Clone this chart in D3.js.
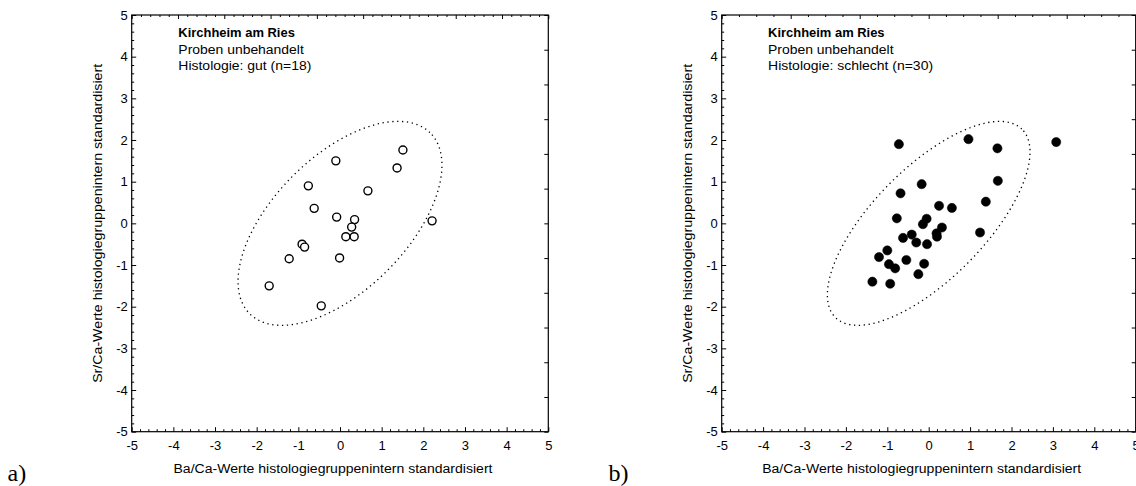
<!DOCTYPE html>
<html><head><meta charset="utf-8">
<script src="https://cdn.jsdelivr.net/npm/d3@7"></script>
<style>
body{margin:0;background:#fff;}
svg{display:block;}
text{fill:#000;}
</style></head>
<body>
<svg id="chart" width="1136" height="486"></svg>
<script>
// ---- data ----
const ticksMajor = [-5,-4,-3,-2,-1,0,1,2,3,4,5];
const tickLabels = ["-5","-4","-3","-2","-1","0","1","2","3","4","5"];
const panelLetters = ["a)","b)"];
const titleLines = ["Kirchheim am Ries","Proben unbehandelt"];
const histologyA = "Histologie: gut (n=18)";
const histologyB = "Histologie: schlecht (n=30)";
const xAxisTitle = "Ba/Ca-Werte histologiegruppenintern standardisiert";
const yAxisTitle = "Sr/Ca-Werte histologiegruppenintern standardisiert";

// panel a: histology good (open circles)
const aBa = [1.51,1.37,-0.10,-0.76,0.67,-0.62,-0.08,0.35,0.28,0.14,0.34,-0.91,-0.85,2.21,-1.22,-0.01,-1.70,-0.45];
const aSr = [1.76,1.33,1.50,0.90,0.78,0.36,0.15,0.09,-0.09,-0.32,-0.32,-0.50,-0.57,0.06,-0.85,-0.83,-1.50,-1.98];
// panel b: histology poor (filled circles)
const bBa = [-0.72,0.96,1.66,3.08,-0.17,-0.68,1.67,1.38,0.25,0.56,-0.77,-0.05,-0.14,0.32,0.19,0.20,1.24,-0.41,-0.62,-0.30,-0.04,-1.00,-1.20,-0.54,-0.11,-0.96,-0.81,-0.25,-1.36,-0.93];
const bSr = [1.90,2.02,1.80,1.95,0.94,0.72,1.02,0.52,0.42,0.37,0.12,0.11,-0.02,-0.10,-0.24,-0.32,-0.22,-0.27,-0.35,-0.46,-0.50,-0.65,-0.81,-0.88,-0.97,-0.98,-1.08,-1.22,-1.40,-1.45];

// 95% confidence ellipses (standardized data): correlation per panel, chi-square(2 df)
const ellipseR = [0.57, 0.70];
const ellipseChi2 = [5.99, 5.99];

// ---- drawing ----
const SANS = '"Liberation Sans", Arial, sans-serif';
const SERIF = '"Liberation Serif", "Times New Roman", serif';
const svg = d3.select("#chart");
const panels = [
  {x0:131.7, x1:548.3, ba:aBa, sr:aSr, fill:"#fff", hist:histologyA, histW:133, letterX:7.5, ylabX:97, topN:9, topSub:5},
  {x0:721.7, x1:1135.7, ba:bBa, sr:bSr, fill:"#000", hist:histologyB, histW:165, letterX:608.5, ylabX:687, topN:6, topSub:4}
];
const yTop = 15, yBot = 431.7;

function label(sel, txt, size, width, weight) {
  const t = sel.append("text").style("font-family",SANS).style("font-size",size+"px").text(txt);
  if (weight) t.style("font-weight",weight);
  if (width) t.attr("textLength",width).attr("lengthAdjust","spacingAndGlyphs");
  return t;
}

panels.forEach((p, i) => {
  const x = d3.scaleLinear().domain([-5,5]).range([p.x0, p.x1]);
  const y = d3.scaleLinear().domain([-5,5]).range([yBot, yTop]);
  const g = svg.append("g");

  // frame
  g.append("rect").attr("x", p.x0).attr("y", yTop).attr("width", p.x1-p.x0).attr("height", yBot-yTop)
    .attr("fill","none").attr("stroke","#000").attr("stroke-width",1.2);

  const minors = d3.range(-50,51,2).map(v => v/10).filter(v => Math.abs(v - Math.round(v)) > 1e-9);

  // bottom axis
  g.append("g").attr("transform",`translate(0,${yBot})`)
    .call(d3.axisBottom(x).tickValues(ticksMajor).tickFormat((d,k)=>tickLabels[k]).tickSize(-4.5).tickPadding(9));
  g.append("g").attr("transform",`translate(0,${yBot})`)
    .call(d3.axisBottom(x).tickValues(minors).tickFormat("").tickSize(-2.5));
  // left axis
  g.append("g").attr("transform",`translate(${p.x0},0)`)
    .call(d3.axisLeft(y).tickValues(ticksMajor).tickFormat((d,k)=>tickLabels[k]).tickSize(-4.5).tickPadding(4));
  g.append("g").attr("transform",`translate(${p.x0},0)`)
    .call(d3.axisLeft(y).tickValues(minors).tickFormat("").tickSize(-2.5));
  // top axis (own scale, as in the original)
  const xt = d3.scaleLinear().domain([0,p.topN]).range([p.x0,p.x1]);
  g.append("g").attr("transform",`translate(0,${yTop})`)
    .call(d3.axisTop(xt).tickValues(d3.range(0,p.topN+1)).tickFormat("").tickSize(-4));
  g.append("g").attr("transform",`translate(0,${yTop})`)
    .call(d3.axisTop(xt).tickValues(d3.range(0,p.topN*p.topSub+1).map(v=>v/p.topSub).filter(v=>v%1!==0)).tickFormat("").tickSize(-2));
  // right axis
  const yr = d3.scaleLinear().domain([0,12]).range([yBot,yTop]);
  g.append("g").attr("transform",`translate(${p.x1},0)`)
    .call(d3.axisRight(yr).tickValues(d3.range(0,13)).tickFormat("").tickSize(-4));

  g.selectAll(".domain").remove();
  g.selectAll(".tick line").attr("stroke","#000").attr("stroke-width",1);
  g.selectAll(".tick text").style("font-size","13px").style("font-family",SANS).attr("fill","#000");

  // axis titles
  label(g, xAxisTitle, 12.5, 319).attr("x",(p.x0+p.x1)/2 - 166.5).attr("y",472.8);
  label(g, yAxisTitle, 12.5, 319).attr("transform",`translate(${p.ylabX+4.5},${(yTop+yBot)/2 + 159.5}) rotate(-90)`);

  // annotation
  const ax = x(-3.88);
  label(g, titleLines[0], 12.3, 116.5, "bold").attr("x",ax).attr("y",37.2);
  label(g, titleLines[1], 12.3, 125.5).attr("x",ax).attr("y",53.5);
  label(g, p.hist, 12.3, p.histW).attr("x",ax).attr("y",69.8);

  // ellipse
  const r = ellipseR[i], s = Math.sqrt(ellipseChi2[i]);
  const pts = d3.range(0, 360, 2).map(deg => {
    const t = deg*Math.PI/180;
    const u = Math.sqrt(1+r)*Math.cos(t), v = Math.sqrt(1-r)*Math.sin(t);
    return [x(s*(u+v)/Math.SQRT2), y(s*(u-v)/Math.SQRT2)];
  });
  g.append("path").attr("d", d3.line().curve(d3.curveCardinalClosed)(pts))
    .attr("fill","none").attr("stroke","#000").attr("stroke-width",1.3).attr("stroke-dasharray","1.3,3.6");

  // points
  g.selectAll("circle.pt").data(p.ba.map((v,k)=>[v,p.sr[k]])).enter().append("circle")
    .attr("class","pt").attr("cx",d=>x(d[0])).attr("cy",d=>y(d[1]))
    .attr("r", i===0 ? 4.0 : 4.6)
    .attr("fill", p.fill).attr("stroke","#000").attr("stroke-width", i===0 ? 1.4 : 0.5);

  // panel letter
  svg.append("text").attr("x",p.letterX).attr("y",481)
    .style("font-family",SERIF).style("font-size","24px").text(panelLetters[i]);
});
</script>
</body></html>
